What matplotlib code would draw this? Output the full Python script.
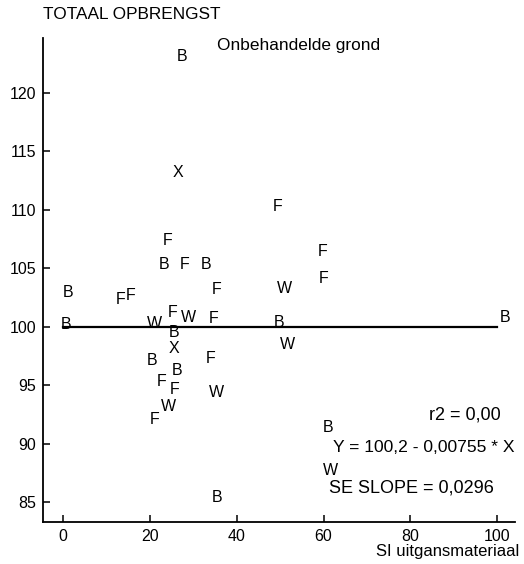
import matplotlib
matplotlib.use("Agg")
import matplotlib.pyplot as plt

plt.rcParams['font.family'] = ['Liberation Sans', 'DejaVu Sans']

# Data: letter markers (soil/crop groups), SI uitgangsmateriaal vs totaal opbrengst
labels = ['B', 'X', 'F', 'F', 'B', 'F', 'B', 'F', 'W', 'F', 'F',
          'B', 'F', 'F', 'B', 'W', 'F', 'W', 'F', 'B', 'B',
          'B', 'X', 'W', 'B', 'F', 'B', 'F', 'F', 'W',
          'W', 'F', 'B', 'W', 'B']
x_vals = [27.4, 26.5, 49.5, 24.2, 23.3, 28.1, 32.9, 35.3, 50.9, 59.7, 60.1,
          1.1, 13.3, 15.6, 0.6, 21.0, 25.3, 28.9, 34.8, 49.8, 101.8,
          25.6, 25.6, 51.7, 20.4, 34.0, 26.2, 22.7, 25.8, 35.3,
          24.3, 21.0, 61.0, 61.5, 35.4]
y_vals = [123.1, 113.2, 110.3, 107.4, 105.3, 105.3, 105.3, 103.2, 103.3, 106.4, 104.1,
          102.9, 102.3, 102.7, 100.2, 100.3, 101.2, 100.8, 100.7, 100.4, 100.8,
          99.5, 98.1, 98.5, 97.1, 97.3, 96.3, 95.3, 94.6, 94.4,
          93.2, 92.1, 91.4, 87.7, 85.4]

line_x = [0, 100]
line_y = [99.95, 99.95]

x_ticks = [0, 20, 40, 60, 80, 100]
y_ticks = [85, 90, 95, 100, 105, 110, 115, 120]

fig = plt.figure(figsize=(5.24, 5.64), dpi=100)
ax = fig.add_axes([0.0821, 0.0745, 0.9008, 0.858])
ax.set_xlim(-4.6, 104.1)
ax.set_ylim(83.3, 124.7)

for lab, xv, yv in zip(labels, x_vals, y_vals):
    ax.text(xv, yv, lab, ha='center', va='center', fontsize=11.5, color='black')

ax.plot(line_x, line_y, color='black', lw=1.6)

for s in ['top', 'right']:
    ax.spines[s].set_visible(False)
for s in ['left', 'bottom']:
    ax.spines[s].set_linewidth(1.3)

ax.set_xticks(x_ticks)
ax.set_yticks(y_ticks)
ax.tick_params(direction='in', length=5, width=1.1, labelsize=11.5, pad=5)

fig.text(0.082, 0.975, 'TOTAAL OPBRENGST', ha='left', va='center', fontsize=12.4)
fig.text(0.414, 0.920, 'Onbehandelde grond', ha='left', va='center', fontsize=12.4)
fig.text(0.818, 0.264, 'r2 = 0,00', ha='left', va='center', fontsize=13)
fig.text(0.635, 0.207, 'Y = 100,2 - 0,00755 * X', ha='left', va='center', fontsize=12.6)
fig.text(0.627, 0.135, 'SE SLOPE = 0,0296', ha='left', va='center', fontsize=13)
fig.text(0.990, 0.022, 'SI uitgansmateriaal', ha='right', va='center', fontsize=12)

fig.savefig('out.png', dpi=100)
